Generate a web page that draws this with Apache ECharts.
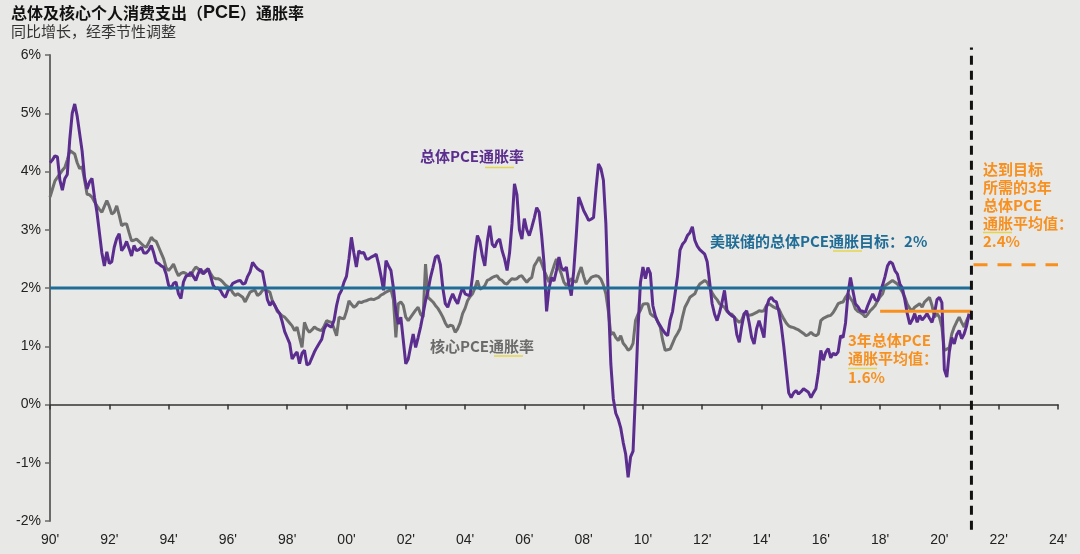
<!DOCTYPE html>
<html>
<head>
<meta charset="utf-8">
<script src="https://cdn.jsdelivr.net/npm/echarts@6/dist/echarts.min.js"></script>
<style>
html,body{margin:0;padding:0;background:#e8e8e6;}
#c{width:1080px;height:554px;}
</style>
</head>
<body>
<div id="c"></div>
<script>
// Monthly data, January 1990 .. January 2021 (YoY %, seasonally adjusted)
const startYear = 1990;
const headlinePCE = [
  4.15,4.2,4.27,4.25,3.85,3.68,3.88,3.95,4.55,5.0,5.16,4.95,
  4.65,4.35,3.9,3.7,3.82,3.88,3.56,3.3,2.95,2.6,2.38,2.62,
  2.42,2.45,2.7,2.85,2.93,2.64,2.7,2.8,2.68,2.55,2.73,2.64,
  2.66,2.7,2.6,2.6,2.65,2.73,2.6,2.44,2.42,2.38,2.36,2.24,
  2.05,1.99,2.08,2.1,1.9,1.82,2.1,2.2,2.22,2.27,2.2,2.13,
  2.25,2.33,2.24,2.28,2.33,2.2,2.05,1.99,2.0,1.96,1.88,1.84,
  1.95,2.01,2.08,2.1,2.12,2.13,2.07,2.08,2.2,2.28,2.44,2.38,
  2.33,2.3,2.28,2.05,1.8,1.7,1.77,1.7,1.62,1.56,1.42,1.25,
  1.15,1.05,0.78,0.85,0.9,0.7,0.88,0.93,0.68,0.7,0.8,0.9,
  0.98,1.05,1.12,1.3,1.38,1.35,1.33,1.45,1.7,1.88,1.96,2.1,
  2.2,2.5,2.87,2.6,2.36,2.64,2.6,2.61,2.5,2.5,2.53,2.55,
  2.58,2.41,2.2,1.96,2.47,2.38,2.3,2.0,1.6,1.38,1.5,1.1,
  0.7,0.78,1.0,1.21,0.98,1.15,1.33,1.55,1.78,1.95,2.18,2.35,
  2.53,2.56,2.4,2.0,1.73,1.67,1.8,1.9,1.8,1.73,1.88,2.01,
  1.9,1.88,1.87,2.2,2.6,2.9,2.8,2.55,2.38,2.8,3.07,2.75,
  2.7,2.8,2.84,2.64,2.5,2.3,2.6,3.1,3.79,3.6,3.0,2.84,
  3.19,3.0,2.9,3.04,3.2,3.38,3.3,2.9,2.41,1.6,2.0,2.18,
  2.12,2.3,2.53,2.35,2.3,2.36,2.07,1.87,2.3,2.9,3.56,3.45,
  3.33,3.25,3.16,3.18,3.21,3.7,4.13,4.05,3.85,3.1,1.8,0.7,
  0.1,-0.15,-0.25,-0.4,-0.65,-0.85,-1.25,-0.9,-0.8,0.2,1.3,2.1,
  2.36,2.16,2.35,2.25,1.7,1.52,1.42,1.35,1.28,1.22,1.18,1.45,
  1.6,1.9,2.2,2.65,2.75,2.8,2.9,2.95,3.05,2.82,2.72,2.66,
  2.62,2.58,2.45,2.1,1.73,1.55,1.44,1.58,1.75,1.96,1.62,1.56,
  1.52,1.5,1.2,1.07,1.35,1.56,1.61,1.4,1.15,1.04,1.3,1.44,
  1.3,1.15,1.67,1.8,1.84,1.78,1.76,1.6,1.35,1.0,0.6,0.2,
  0.12,0.2,0.24,0.18,0.22,0.27,0.24,0.21,0.12,0.2,0.27,0.55,
  0.93,0.76,0.9,0.96,0.8,0.88,0.85,0.9,1.18,1.15,1.4,1.9,
  2.18,1.95,1.73,1.68,1.61,1.6,1.58,1.7,1.8,1.9,1.8,1.78,
  1.93,2.05,2.2,2.38,2.45,2.42,2.3,2.24,2.07,2.0,1.8,1.56,
  1.38,1.45,1.56,1.41,1.53,1.45,1.5,1.56,1.48,1.41,1.56,1.8,
  1.84,1.75,0.6,0.47,0.9,1.15,1.04,1.2,1.27,1.13,1.21,1.35,
  1.56
];
const corePCE = [
  3.56,3.7,3.84,3.9,3.96,4.02,4.07,4.2,4.36,4.33,4.3,4.15,
  4.05,4.08,3.85,3.61,3.6,3.56,3.48,3.41,3.35,3.3,3.4,3.5,
  3.4,3.27,3.3,3.41,3.25,3.07,3.1,3.1,2.95,2.81,2.82,2.84,
  2.8,2.76,2.72,2.7,2.78,2.87,2.82,2.8,2.7,2.6,2.5,2.35,
  2.3,2.35,2.41,2.3,2.21,2.25,2.27,2.25,2.22,2.21,2.3,2.36,
  2.33,2.27,2.27,2.3,2.33,2.25,2.18,2.16,2.16,2.14,2.1,2.05,
  2.02,1.99,1.92,1.87,1.9,1.87,1.84,1.76,1.85,1.93,1.95,1.96,
  1.87,1.9,1.96,1.98,1.95,1.93,1.78,1.7,1.6,1.56,1.52,1.5,
  1.45,1.4,1.35,1.27,1.33,1.15,0.98,1.41,1.3,1.24,1.28,1.33,
  1.3,1.28,1.27,1.35,1.44,1.42,1.41,1.3,1.18,1.5,1.48,1.47,
  1.6,1.78,1.72,1.67,1.7,1.76,1.75,1.77,1.78,1.8,1.81,1.8,
  1.82,1.84,1.88,1.9,1.93,1.95,1.98,1.8,1.15,1.73,1.76,1.7,
  1.5,1.44,1.5,1.56,1.62,1.67,1.55,1.5,2.41,1.84,1.8,1.76,
  1.7,1.65,1.58,1.5,1.4,1.33,1.36,1.35,1.24,1.3,1.4,1.56,
  1.65,1.78,1.85,1.9,2.0,2.13,1.98,2.0,2.04,2.13,2.15,2.18,
  2.2,2.21,2.15,2.13,2.08,2.07,2.12,2.16,2.15,2.16,2.2,2.21,
  2.15,2.1,2.15,2.18,2.38,2.45,2.53,2.42,2.3,2.2,2.1,2.25,
  2.38,2.5,2.35,2.24,2.1,2.04,2.1,2.16,2.12,2.1,2.25,2.36,
  2.2,2.07,2.12,2.18,2.2,2.21,2.2,2.15,2.05,1.9,1.6,1.2,
  1.24,1.15,1.1,1.18,1.05,1.0,0.93,0.96,1.05,1.44,1.55,1.62,
  1.72,1.73,1.73,1.56,1.52,1.5,1.42,1.33,1.1,0.93,0.94,0.95,
  1.05,1.15,1.22,1.3,1.5,1.67,1.75,1.84,1.87,1.9,2.0,2.07,
  2.1,2.13,2.1,2.0,1.92,1.85,1.8,1.73,1.7,1.67,1.6,1.56,
  1.55,1.5,1.45,1.41,1.45,1.56,1.55,1.53,1.54,1.56,1.58,1.61,
  1.6,1.61,1.7,1.73,1.7,1.67,1.65,1.64,1.55,1.47,1.4,1.35,
  1.33,1.32,1.3,1.28,1.25,1.22,1.18,1.2,1.24,1.2,1.18,1.21,
  1.44,1.48,1.5,1.52,1.53,1.58,1.65,1.73,1.75,1.76,1.84,1.9,
  1.82,1.76,1.64,1.6,1.58,1.55,1.5,1.55,1.61,1.65,1.7,1.78,
  1.85,1.9,2.04,2.07,2.1,2.13,2.1,2.07,2.0,1.93,1.84,1.72,
  1.65,1.61,1.67,1.7,1.73,1.67,1.76,1.8,1.84,1.7,1.5,1.56,
  1.5,1.33,0.93,0.95,0.98,1.21,1.33,1.42,1.5,1.41,1.33,1.44,
  1.53
];
// reference levels
const fedTarget = 2.0;          // Fed headline PCE target
const avg3Year = 1.6;           // 3-year headline PCE average
const avgNeeded = 2.4;          // 3-year average needed to reach target
const targetSpan = [1990, 2021.08];
const avg3Span = [2018.0, 2021.08];
const neededSpan = [2021.15, 2024];
const dividerYear = 2021.08;
const dividerRange = [-2.15, 6.13];
const xRange = [1990, 2024];
const yRange = [-2, 6];

const toXY = arr => arr.map((v, i) => [startYear + i / 12, v]);

const CJK = '"Noto Sans CJK SC", "Liberation Sans", sans-serif';
const LAT = '"Liberation Sans", Arial, sans-serif';
const purple = '#5b2d8e', grey = '#6f6f6f', teal = '#1f6d96', orange = '#f7901e', hl = '#e4d64c';
const AF = 'bold 15px ' + CJK;

const chart = echarts.init(document.getElementById('c'), null, {renderer: 'canvas'});
chart.setOption({
  backgroundColor: '#e8e8e6',
  animation: false,
  grid: {left: 50, right: 22, top: 55, bottom: 33, containLabel: false},
  xAxis: [{
    type: 'value', min: xRange[0], max: xRange[1], interval: 2, position: 'bottom',
    axisLine: {show: true, onZero: true, lineStyle: {color: '#333', width: 1.5}},
    axisTick: {show: true, inside: false, length: 5, lineStyle: {color: '#333', width: 1.5}},
    axisLabel: {show: false},
    splitLine: {show: false}
  }, {
    type: 'value', min: xRange[0], max: xRange[1], interval: 2, position: 'bottom',
    axisLine: {show: false, onZero: false},
    axisTick: {show: false},
    splitLine: {show: false},
    axisLabel: {
      margin: 12, fontSize: 14, color: '#222',
      fontFamily: '"Liberation Sans Narrow", "Arial Narrow", "Liberation Sans", sans-serif',
      formatter: v => String(v % 100).padStart(2, '0') + "'"
    }
  }],
  yAxis: {
    type: 'value', min: yRange[0], max: yRange[1], interval: 1,
    axisLine: {show: true, onZero: false, lineStyle: {color: '#6a6a6a', width: 2}},
    axisTick: {show: true, length: 5, lineStyle: {color: '#6a6a6a', width: 1.5}},
    splitLine: {show: false},
    axisLabel: {margin: 9, fontSize: 14, color: '#222', fontFamily: LAT,
      formatter: v => v + '%'}
  },
  series: [
    {name: '核心PCE通胀率', type: 'line', data: toXY(corePCE), showSymbol: false, z: 2,
      lineStyle: {color: grey, width: 3}},
    {name: '总体PCE通胀率', type: 'line', data: toXY(headlinePCE), showSymbol: false, z: 3,
      lineStyle: {color: purple, width: 3}},
    {name: 'target', type: 'line', data: targetSpan.map(x => [x, fedTarget]), showSymbol: false, z: 4,
      lineStyle: {color: teal, width: 3}},
    {name: 'avg3', type: 'line', data: avg3Span.map(x => [x, avg3Year]), showSymbol: false, z: 4,
      lineStyle: {color: orange, width: 3}},
    {name: 'needed', type: 'line', data: neededSpan.map(x => [x, avgNeeded]), showSymbol: false, z: 4,
      lineStyle: {color: orange, width: 3, type: [14, 10]}},
    {name: 'divider', type: 'line', data: dividerRange.map(y => [dividerYear, y]), showSymbol: false, z: 5,
      clip: false, lineStyle: {color: '#111', width: 3, type: [9, 6]}}
  ],
  graphic: [
    {type: 'text', left: 11, top: 4, style: {
      text: '{a|总体及核心个人消费支出（}{b|PCE}{a|）通胀率}',
      rich: {a: {font: 'bold 16px ' + CJK, fill: '#111'}, b: {font: 'bold 18px ' + LAT, fill: '#111'}}}},
    {type: 'text', left: 11, top: 24, style: {text: '同比增长，经季节性调整', font: '15px ' + CJK, fill: '#333'}},
    {type: 'text', left: 420, top: 149, style: {text: '总体PCE通胀率', font: AF, fill: purple}},
    {type: 'text', left: 430, top: 339, style: {text: '核心PCE通胀率', font: AF, fill: '#6b6b6b'}},
    {type: 'text', left: 710, top: 234, style: {text: '美联储的总体PCE通胀目标：2%', font: AF, fill: teal}},
    {type: 'text', left: 848, top: 331, style: {text: '3年总体PCE\n通胀平均值：\n1.6%', font: AF, fill: orange, lineHeight: 18.5}},
    {type: 'text', left: 983, top: 160, style: {text: '达到目标\n所需的3年\n总体PCE\n通胀平均值：\n2.4%', font: AF, fill: orange, lineHeight: 18}},
    {type: 'line', shape: {x1: 485, y1: 167.5, x2: 514, y2: 167.5}, style: {stroke: hl, lineWidth: 1.5}},
    {type: 'line', shape: {x1: 494, y1: 356, x2: 523, y2: 356}, style: {stroke: hl, lineWidth: 1.5}},
    {type: 'line', shape: {x1: 833, y1: 251, x2: 862, y2: 251}, style: {stroke: hl, lineWidth: 1.5}},
    {type: 'line', shape: {x1: 848, y1: 368.5, x2: 877, y2: 368.5}, style: {stroke: hl, lineWidth: 1.5}},
    {type: 'line', shape: {x1: 983, y1: 232.5, x2: 1012, y2: 232.5}, style: {stroke: hl, lineWidth: 1.5}}
  ]
});
</script>
</body>
</html>
